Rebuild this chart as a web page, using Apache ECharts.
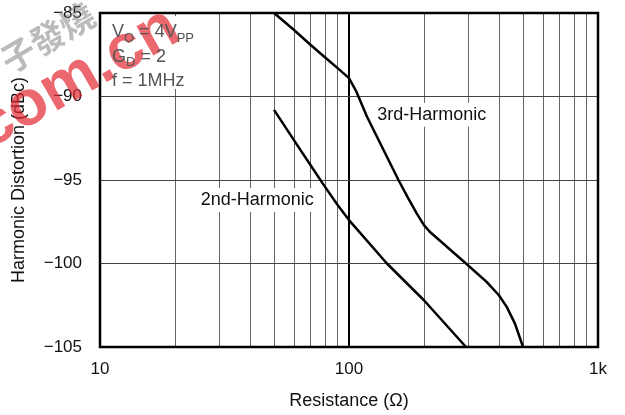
<!DOCTYPE html>
<html>
<head>
<meta charset="utf-8">
<script src="https://cdn.jsdelivr.net/npm/echarts@6/dist/echarts.min.js"></script>
<style>
  html, body { margin: 0; padding: 0; background: #fff; }
  #chart { width: 625px; height: 415px; }
</style>
</head>
<body>
<div id="chart"></div>
<script>
// Resistance (ohms) and harmonic distortion (dBc) for each harmonic
const secondR  = [50, 60, 70, 80, 90, 100, 142, 200, 295];
const secondDb = [-90.8, -92.6, -94.1, -95.4, -96.5, -97.4, -100.0, -102.2, -105.0];

const thirdR  = [50, 60, 70, 80, 90, 100, 107, 118, 158, 173, 187, 200, 211, 295, 357, 400, 430, 464, 500];
const thirdDb = [-85.0, -86.0, -86.9, -87.65, -88.3, -88.9, -89.7, -91.2, -95.0, -96.1, -97.0, -97.7, -98.1, -100.0, -101.1, -101.9, -102.6, -103.6, -105.0];

// Axis ranges and grid positions
const xMin = 10, xMax = 1000;
const yMin = -105, yMax = -85, yStep = 5;
const xMinorGrid = [20, 30, 40, 50, 60, 70, 80, 90, 200, 300, 400, 500, 600, 700, 800, 900];
const xMajorGrid = [100];
const yGrid = [-90, -95, -100];

const FONT = 'Arial, "Liberation Sans", Helvetica, sans-serif';

function pairs(xs, ys) { return xs.map((x, i) => [x, ys[i]]); }
function minus(v) { return v < 0 ? '\u2212' + Math.abs(v) : String(v); }

const chart = echarts.init(document.getElementById('chart'), null, { renderer: 'canvas' });

const option = {
  animation: false,
  backgroundColor: '#fff',
  grid: { left: 100, right: 27, top: 13, bottom: 65, show: false },
  xAxis: {
    type: 'log', logBase: 10, min: xMin, max: xMax,
    name: 'Resistance (\u03A9)', nameLocation: 'middle', nameGap: 45,
    nameTextStyle: { fontFamily: FONT, fontSize: 18, color: '#111' },
    axisLine: { show: false },
    axisTick: { show: false },
    splitLine: { show: false },
    axisLabel: {
      fontFamily: FONT, fontSize: 17, color: '#111', margin: 14,
      formatter: v => (v >= 1000 ? (v / 1000) + 'k' : String(v))
    }
  },
  yAxis: {
    type: 'value', min: yMin, max: yMax, interval: yStep,
    name: 'Harmonic Distortion (dBc)', nameLocation: 'middle', nameGap: 72,
    nameTextStyle: { fontFamily: FONT, fontSize: 18, color: '#111' },
    axisLine: { show: false },
    axisTick: { show: false },
    splitLine: { show: false },
    axisLabel: { fontFamily: FONT, fontSize: 17, color: '#111', margin: 18, formatter: minus }
  },
  series: [
    {
      // grid lines
      type: 'line', data: [], silent: true, z: 1,
      markLine: {
        silent: true, symbol: 'none', label: { show: false }, animation: false,
        data: [
          ...xMinorGrid.map(v => ({ xAxis: v, lineStyle: { color: '#666', width: 1, type: 'solid' } })),
          ...xMajorGrid.map(v => ({ xAxis: v, lineStyle: { color: '#000', width: 2, type: 'solid' } })),
          ...yGrid.map(v => ({ yAxis: v, lineStyle: { color: '#444', width: 1, type: 'solid' } }))
        ]
      }
    },
    {
      name: '2nd-Harmonic', type: 'line', data: pairs(secondR, secondDb),
      showSymbol: false, smooth: false, z: 5,
      lineStyle: { color: '#000', width: 2.5, join: 'round' }
    },
    {
      name: '3rd-Harmonic', type: 'line', data: pairs(thirdR, thirdDb),
      showSymbol: false, smooth: false, z: 5,
      lineStyle: { color: '#000', width: 2.5, join: 'round' }
    }
  ]
};
chart.setOption(option);

// Plot frame, annotations and the overlaid site mark
const tl = chart.convertToPixel({ gridIndex: 0 }, [xMin, yMax]);
const br = chart.convertToPixel({ gridIndex: 0 }, [xMax, yMin]);
const lbl3 = chart.convertToPixel({ gridIndex: 0 }, [215, -91.1]);
const lbl2 = chart.convertToPixel({ gridIndex: 0 }, [42.8, -96.2]);

const labelStyle = { font: '18px ' + FONT, fill: '#111', align: 'center', verticalAlign: 'middle',
  backgroundColor: '#fff', padding: [3, 2] };

chart.setOption({
  graphic: [
    {
      type: 'rect', z: 20, silent: true,
      shape: { x: tl[0], y: tl[1], width: br[0] - tl[0], height: br[1] - tl[1] },
      style: { fill: 'none', stroke: '#000', lineWidth: 2.5 }
    },
    {
      type: 'rect', z: 10, silent: true,
      shape: { x: tl[0] + 3, y: tl[1] + 3, width: 100, height: 73 },
      style: { fill: '#fff' }
    },
    {
      type: 'text', z: 29, silent: true, x: 12, y: 78, rotation: 0.53,
      style: {
        text: '子發燒', font: 'bold 34px "Noto Sans CJK SC", sans-serif', fill: 'rgba(120,120,120,0.5)',
        verticalAlign: 'bottom'
      }
    },
    {
      type: 'text', z: 30, silent: true, x: -4, y: 162, rotation: 0.52,
      style: {
        text: 'com.cn', font: 'bold 64px ' + FONT, fill: 'rgba(228,40,50,0.7)',
        verticalAlign: 'bottom', shadowBlur: 3, shadowColor: 'rgba(228,40,50,0.5)'
      }
    },
    {
      type: 'text', z: 31, x: tl[0] + 12, y: tl[1] + 7,
      style: {
        text: '{m|V}{s|O}{m| = 4V}{s|PP}\n{m|G}{s|D}{m| = 2}\n{m|f = 1MHz}',
        font: '18px ' + FONT, fill: '#555', verticalAlign: 'top', lineHeight: 24.5,
        rich: {
          m: { font: '18px ' + FONT, fill: '#555', lineHeight: 24.5 },
          s: { font: '13px ' + FONT, fill: '#555', verticalAlign: 'bottom', lineHeight: 24.5 }
        }
      }
    },
    { type: 'text', z: 11, x: lbl3[0], y: lbl3[1], style: Object.assign({ text: '3rd-Harmonic' }, labelStyle) },
    { type: 'text', z: 11, x: lbl2[0], y: lbl2[1], style: Object.assign({ text: '2nd-Harmonic' }, labelStyle) }
  ]
});
</script>
</body>
</html>
